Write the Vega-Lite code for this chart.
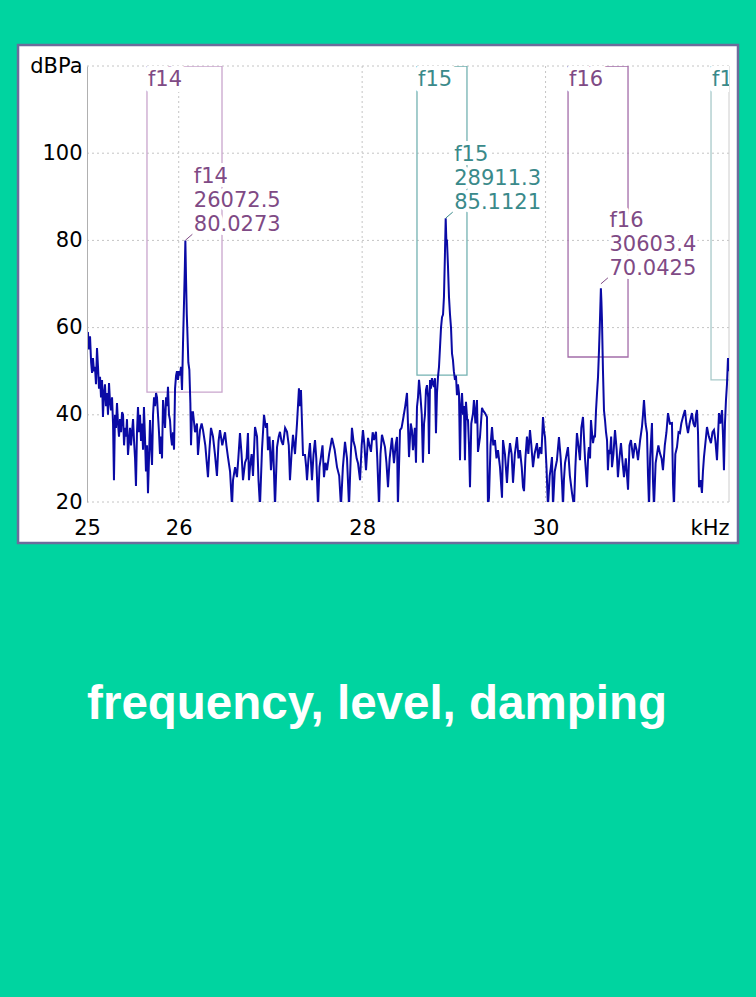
{
 "$schema": "https://vega.github.io/schema/vega-lite/v6.json",
 "width": 642, "height": 436,
 "autosize": "none",
 "padding": {"left": 87, "top": 66, "right": 27, "bottom": 495},
 "background": "#00D4A0",
 "title": {"text": "frequency, level, damping", "orient": "bottom", "anchor": "middle", "font": "Liberation Sans", "fontSize": 47.5, "fontWeight": "bold", "color": "#ffffff", "offset": 137, "dx": -31},
 "config": {"view": {"stroke": null}, "font": "DejaVu Sans", "axis": {"title": null, "grid": false, "ticks": false, "labels": true, "zindex": 1}},
 "datasets": {
  "xg": [{"v": 26}, {"v": 28}, {"v": 30}],
  "yg": [{"v": 20}, {"v": 40}, {"v": 60}, {"v": 80}, {"v": 100}, {"v": 120}],
  "mk": [
   {"m": "f14", "lo": 25.654, "hi": 26.472, "bot": 45.2, "pf": 26.0725, "pl": 80.0273, "ann": "f14\n26072.5\n80.0273"},
   {"m": "f15", "lo": 28.598, "hi": 29.143, "bot": 49.1, "pf": 28.9113, "pl": 85.1121, "ann": "f15\n28911.3\n85.1121"},
   {"m": "f16", "lo": 30.245, "hi": 30.899, "bot": 53.26, "pf": 30.6034, "pl": 70.0425, "ann": "f16\n30603.4\n70.0425"},
   {"m": "f17", "lo": 31.804, "hi": 32.5, "bot": 48.0, "pf": null, "pl": null, "ann": null}
  ],
  "sp": [
   {"f":25.000,"db":57},{"f":25.010,"db":59},{"f":25.020,"db":55},{"f":25.033,"db":58},{"f":25.045,"db":52},{"f":25.055,"db":49.6},{"f":25.065,"db":53},{"f":25.076,"db":50},{"f":25.087,"db":51},{"f":25.098,"db":47},{"f":25.109,"db":55.3},{"f":25.120,"db":51},{"f":25.131,"db":46},{"f":25.142,"db":48.7},{"f":25.153,"db":44},{"f":25.164,"db":48},{"f":25.174,"db":39.5},{"f":25.185,"db":45},{"f":25.196,"db":47},{"f":25.207,"db":42},{"f":25.218,"db":45},{"f":25.229,"db":40},{"f":25.240,"db":47.3},{"f":25.251,"db":43},{"f":25.262,"db":41},{"f":25.273,"db":44},{"f":25.284,"db":38},{"f":25.294,"db":25},{"f":25.305,"db":40},{"f":25.316,"db":37},{"f":25.327,"db":42.7},{"f":25.338,"db":38},{"f":25.349,"db":35},{"f":25.360,"db":39},{"f":25.371,"db":36},{"f":25.382,"db":40.6},{"f":25.393,"db":40},{"f":25.404,"db":33},{"f":25.415,"db":37},{"f":25.426,"db":35},{"f":25.436,"db":39},{"f":25.447,"db":30.8},{"f":25.458,"db":34},{"f":25.469,"db":37},{"f":25.480,"db":33},{"f":25.491,"db":36},{"f":25.502,"db":39},{"f":25.513,"db":34},{"f":25.524,"db":30},{"f":25.534,"db":23.7},{"f":25.545,"db":36},{"f":25.556,"db":41.8},{"f":25.567,"db":36},{"f":25.578,"db":40},{"f":25.589,"db":34},{"f":25.600,"db":38},{"f":25.611,"db":32},{"f":25.621,"db":41.8},{"f":25.632,"db":35},{"f":25.643,"db":27},{"f":25.654,"db":33},{"f":25.665,"db":22},{"f":25.676,"db":30},{"f":25.687,"db":38.8},{"f":25.698,"db":33},{"f":25.709,"db":28.5},{"f":25.720,"db":40},{"f":25.731,"db":44},{"f":25.742,"db":42},{"f":25.753,"db":45},{"f":25.763,"db":44},{"f":25.774,"db":40},{"f":25.785,"db":36},{"f":25.796,"db":31},{"f":25.807,"db":35},{"f":25.818,"db":30},{"f":25.829,"db":43.4},{"f":25.840,"db":40},{"f":25.851,"db":37},{"f":25.862,"db":44},{"f":25.873,"db":42},{"f":25.883,"db":46.4},{"f":25.894,"db":40},{"f":25.905,"db":38.8},{"f":25.916,"db":35},{"f":25.927,"db":33},{"f":25.938,"db":36},{"f":25.949,"db":32},{"f":25.960,"db":46},{"f":25.971,"db":49},{"f":25.981,"db":50},{"f":25.992,"db":48},{"f":26.003,"db":50},{"f":26.014,"db":49},{"f":26.025,"db":51},{"f":26.036,"db":45.7},{"f":26.047,"db":56.5},{"f":26.058,"db":66},{"f":26.067,"db":74},{"f":26.0725,"db":80},{"f":26.080,"db":71},{"f":26.088,"db":63},{"f":26.094,"db":59.4},{"f":26.105,"db":52},{"f":26.116,"db":50.3},{"f":26.127,"db":42.7},{"f":26.134,"db":33},{"f":26.145,"db":40.6},
   {"f":26.156,"db":40.6},{"f":26.178,"db":36},{"f":26.199,"db":38},{"f":26.210,"db":30.8},{"f":26.232,"db":36.5},{"f":26.250,"db":38},{"f":26.265,"db":36.5},{"f":26.290,"db":33},{"f":26.319,"db":25.7},{"f":26.335,"db":32},{"f":26.352,"db":37},{"f":26.374,"db":35},{"f":26.395,"db":31},{"f":26.417,"db":26},{"f":26.435,"db":34},{"f":26.450,"db":36.5},{"f":26.475,"db":33},{"f":26.505,"db":36},{"f":26.520,"db":33},{"f":26.537,"db":30.3},{"f":26.560,"db":27},{"f":26.581,"db":19},{"f":26.592,"db":25},{"f":26.615,"db":28},{"f":26.635,"db":25.7},{"f":26.650,"db":30},{"f":26.668,"db":35.8},{"f":26.685,"db":31},{"f":26.701,"db":25},{"f":26.723,"db":29},{"f":26.740,"db":30},{"f":26.755,"db":35.8},{"f":26.766,"db":25},{"f":26.777,"db":28},{"f":26.795,"db":31},{"f":26.810,"db":26},{"f":26.832,"db":37.2},{"f":26.854,"db":35},{"f":26.870,"db":25},{"f":26.886,"db":19},{"f":26.908,"db":32},{"f":26.930,"db":40},{"f":26.950,"db":37},{"f":26.963,"db":38.1},{"f":26.973,"db":31.9},{"f":26.990,"db":35},{"f":27.006,"db":27.3},{"f":27.028,"db":34.2},{"f":27.050,"db":19},{"f":27.072,"db":32.6},{"f":27.090,"db":35},{"f":27.104,"db":36.1},{"f":27.120,"db":34},{"f":27.137,"db":33.1},{"f":27.160,"db":37},{"f":27.181,"db":36.1},{"f":27.200,"db":33},{"f":27.213,"db":25},{"f":27.230,"db":31},{"f":27.246,"db":35.4},{"f":27.268,"db":31},{"f":27.290,"db":38.1},{"f":27.311,"db":46.1},{"f":27.322,"db":42},{"f":27.333,"db":45.7},{"f":27.355,"db":30.8},{"f":27.377,"db":30.8},{"f":27.390,"db":28},{"f":27.399,"db":25},{"f":27.415,"db":30},{"f":27.431,"db":33.5},{"f":27.453,"db":25},{"f":27.470,"db":31},{"f":27.486,"db":34.2},{"f":27.500,"db":30},{"f":27.519,"db":19},{"f":27.535,"db":28},{"f":27.551,"db":30.3},{"f":27.568,"db":33},{"f":27.584,"db":25.7},{"f":27.600,"db":29},{"f":27.617,"db":27.3},{"f":27.640,"db":31},{"f":27.671,"db":34.7},{"f":27.700,"db":32},{"f":27.726,"db":28},{"f":27.750,"db":26},{"f":27.769,"db":19},{"f":27.790,"db":28},{"f":27.813,"db":33.8},{"f":27.835,"db":30},{"f":27.857,"db":19},{"f":27.875,"db":30},{"f":27.889,"db":37},{"f":27.905,"db":34},{"f":27.922,"db":32.6},{"f":27.940,"db":30},{"f":27.955,"db":28.9},{"f":27.977,"db":25},{"f":27.995,"db":33},{"f":28.009,"db":36.5},{"f":28.025,"db":33},{"f":28.042,"db":27.3},{"f":28.064,"db":34.7},{"f":28.080,"db":33},{"f":28.096,"db":31.5},{"f":28.115,"db":36},{"f":28.129,"db":34.2},{"f":28.151,"db":36.1},{"f":28.165,"db":30},{"f":28.184,"db":19},{"f":28.200,"db":31},{"f":28.216,"db":35.4},{"f":28.233,"db":34},{"f":28.249,"db":32.6},{"f":28.265,"db":29},{"f":28.282,"db":23.4},{"f":28.300,"db":30},{"f":28.325,"db":34.7},{"f":28.347,"db":28.9},{"f":28.365,"db":33},{"f":28.380,"db":34.9},{"f":28.390,"db":19},{"f":28.413,"db":36.5},{"f":28.430,"db":37},{"f":28.445,"db":38.8},{"f":28.470,"db":42},{"f":28.489,"db":45},{"f":28.511,"db":30.3},{"f":28.530,"db":38},{"f":28.543,"db":36.5},{"f":28.554,"db":31.9},
   {"f":28.575,"db":37},{"f":28.587,"db":29},{"f":28.598,"db":41.8},{"f":28.609,"db":44},{"f":28.620,"db":48},{"f":28.635,"db":44.5},{"f":28.650,"db":40},{"f":28.663,"db":29},{"f":28.675,"db":38},{"f":28.685,"db":40},{"f":28.696,"db":45.7},{"f":28.707,"db":46.8},{"f":28.720,"db":44},{"f":28.729,"db":31},{"f":28.740,"db":48},{"f":28.750,"db":46},{"f":28.761,"db":48.4},{"f":28.775,"db":47},{"f":28.783,"db":46.4},{"f":28.794,"db":48.4},{"f":28.805,"db":35.8},{"f":28.816,"db":45},{"f":28.827,"db":48.7},{"f":28.838,"db":51},{"f":28.849,"db":55.5},{"f":28.860,"db":60},{"f":28.871,"db":62.4},{"f":28.882,"db":63},{"f":28.892,"db":67},{"f":28.902,"db":76},{"f":28.911,"db":85.1},{"f":28.918,"db":80},{"f":28.925,"db":80},{"f":28.936,"db":74},{"f":28.947,"db":67},{"f":28.958,"db":63},{"f":28.969,"db":60},{"f":28.980,"db":54},{"f":28.990,"db":52.6},{"f":29.000,"db":50},{"f":29.012,"db":48},{"f":29.023,"db":49},{"f":29.034,"db":44.5},{"f":29.045,"db":47},{"f":29.056,"db":45},{"f":29.067,"db":29.6},{"f":29.078,"db":42},{"f":29.089,"db":45},{"f":29.100,"db":40},{"f":29.110,"db":42},{"f":29.121,"db":29.6},{"f":29.132,"db":43},{"f":29.145,"db":39},{"f":29.154,"db":38.8},{"f":29.165,"db":33},{"f":29.176,"db":23.4},{"f":29.190,"db":38},{"f":29.209,"db":40.4},{"f":29.219,"db":43.4},{"f":29.235,"db":38},{"f":29.252,"db":43.4},{"f":29.263,"db":31.5},{"f":29.285,"db":34.9},{"f":29.307,"db":41.6},{"f":29.318,"db":41},{"f":29.339,"db":40.4},{"f":29.361,"db":39.5},{"f":29.372,"db":19},
   {"f":29.383,"db":21},{"f":29.400,"db":33},{"f":29.416,"db":37.2},{"f":29.430,"db":33},{"f":29.448,"db":34.2},{"f":29.465,"db":30},{"f":29.481,"db":31.9},{"f":29.503,"db":28},{"f":29.525,"db":21},{"f":29.536,"db":34.2},{"f":29.557,"db":31},{"f":29.579,"db":24.4},{"f":29.595,"db":30},{"f":29.612,"db":33.5},{"f":29.630,"db":31},{"f":29.645,"db":24.4},{"f":29.665,"db":31},{"f":29.688,"db":34.9},{"f":29.705,"db":30},{"f":29.721,"db":31.9},{"f":29.740,"db":28},{"f":29.754,"db":23.4},{"f":29.765,"db":22.5},{"f":29.780,"db":30},{"f":29.797,"db":35},{"f":29.812,"db":31},{"f":29.830,"db":36.5},{"f":29.845,"db":33},{"f":29.863,"db":28},{"f":29.880,"db":31},{"f":29.906,"db":33.5},{"f":29.920,"db":30},{"f":29.939,"db":32.6},{"f":29.955,"db":31},{"f":29.972,"db":39.5},{"f":29.985,"db":36},{"f":29.994,"db":34.9},{"f":30.010,"db":28},{"f":30.026,"db":19},{"f":30.045,"db":26},{"f":30.058,"db":28},{"f":30.070,"db":30.3},{"f":30.081,"db":19},{"f":30.100,"db":27},{"f":30.124,"db":29.6},{"f":30.146,"db":34.9},{"f":30.165,"db":30},{"f":30.180,"db":24},{"f":30.190,"db":19},{"f":30.200,"db":25},{"f":30.212,"db":28.9},{"f":30.230,"db":31},{"f":30.244,"db":32.6},{"f":30.265,"db":26},{"f":30.288,"db":22.1},{"f":30.310,"db":19},{"f":30.325,"db":28},{"f":30.342,"db":35.8},{"f":30.358,"db":33},{"f":30.375,"db":29.6},{"f":30.390,"db":37},{"f":30.408,"db":39.5},{"f":30.430,"db":30},{"f":30.452,"db":23.4},{"f":30.465,"db":31},{"f":30.473,"db":32.6},{"f":30.485,"db":30},{"f":30.495,"db":38.8},{"f":30.506,"db":36},{"f":30.517,"db":33.5},{"f":30.528,"db":35},{"f":30.539,"db":35},{"f":30.550,"db":41},{"f":30.561,"db":45},{"f":30.572,"db":48.7},{"f":30.583,"db":55},{"f":30.593,"db":61.7},{"f":30.603,"db":69},{"f":30.609,"db":66},{"f":30.615,"db":61.7},{"f":30.626,"db":50},{"f":30.637,"db":41},{"f":30.648,"db":38.8},{"f":30.659,"db":36},{"f":30.670,"db":34.2},{"f":30.680,"db":27.3},
   {"f":30.692,"db":32},{"f":30.702,"db":31},{"f":30.715,"db":35},{"f":30.724,"db":28},{"f":30.740,"db":31},{"f":30.757,"db":36.5},{"f":30.775,"db":32},{"f":30.789,"db":25.7},{"f":30.805,"db":30},{"f":30.822,"db":33.5},{"f":30.840,"db":29},{"f":30.855,"db":25.7},{"f":30.875,"db":30},{"f":30.899,"db":22.8},{"f":30.915,"db":33},{"f":30.931,"db":34.2},{"f":30.955,"db":30},{"f":30.975,"db":33.5},{"f":30.992,"db":32},{"f":31.008,"db":29.6},{"f":31.030,"db":34},{"f":31.051,"db":37.2},{"f":31.062,"db":40},{"f":31.073,"db":43.4},{"f":31.090,"db":38},{"f":31.106,"db":35.8},{"f":31.117,"db":26},{"f":31.128,"db":19},{"f":31.140,"db":30},{"f":31.160,"db":38.1},{"f":31.171,"db":25},{"f":31.182,"db":19},{"f":31.200,"db":28.9},{"f":31.215,"db":31},{"f":31.230,"db":33},{"f":31.247,"db":31.2},{"f":31.265,"db":30},{"f":31.280,"db":27.3},{"f":31.300,"db":33},{"f":31.318,"db":36},{"f":31.335,"db":40.4},{"f":31.355,"db":38},{"f":31.378,"db":38.1},{"f":31.390,"db":24},{"f":31.400,"db":19},{"f":31.415,"db":31},{"f":31.433,"db":32.6},{"f":31.450,"db":36},{"f":31.465,"db":35.8},{"f":31.480,"db":38},{"f":31.498,"db":39.5},{"f":31.520,"db":41.1},{"f":31.535,"db":38},{"f":31.553,"db":35.8},{"f":31.570,"db":38},{"f":31.596,"db":40.4},{"f":31.612,"db":38},{"f":31.629,"db":37.2},{"f":31.640,"db":40},{"f":31.651,"db":41.1},{"f":31.662,"db":36},{"f":31.673,"db":23.4},{"f":31.690,"db":25},{"f":31.705,"db":22.1},{"f":31.716,"db":27},{"f":31.727,"db":30.3},{"f":31.745,"db":34},{"f":31.760,"db":37.2},{"f":31.780,"db":35},{"f":31.803,"db":33.5},{"f":31.820,"db":36},{"f":31.836,"db":36.5},{"f":31.852,"db":34},{"f":31.869,"db":29.6},{"f":31.880,"db":35},{"f":31.891,"db":40.4},{"f":31.905,"db":38},{"f":31.924,"db":41.1},{"f":31.935,"db":35},{"f":31.945,"db":27.3},{"f":31.956,"db":38},{"f":31.967,"db":43.4},{"f":31.978,"db":47},{"f":31.989,"db":53},{"f":32.000,"db":50}
  ]
 },
 "layer": [
  {
   "data": {"values": [{}]},
   "mark": {"type": "rect", "fill": "#ffffff", "stroke": "#6c6c9c", "strokeWidth": 2.5, "clip": false},
   "encoding": {
    "x": {"datum": 24.248, "type": "quantitative", "scale": {"domain": [25, 32], "nice": false, "zero": false}},
    "x2": {"datum": 32.098},
    "y": {"datum": 124.82, "type": "quantitative", "scale": {"domain": [20, 120], "nice": false, "zero": false}},
    "y2": {"datum": 10.6}
   }
  },
  {
   "data": {"name": "xg"},
   "mark": {"type": "rule", "color": "#c4c4c4", "strokeWidth": 1, "strokeDash": [2, 3]},
   "encoding": {"x": {"field": "v", "type": "quantitative", "scale": {"domain": [25, 32], "nice": false, "zero": false}}}
  },
  {
   "data": {"name": "yg"},
   "mark": {"type": "rule", "color": "#c4c4c4", "strokeWidth": 1, "strokeDash": [2, 3]},
   "encoding": {"y": {"field": "v", "type": "quantitative", "scale": {"domain": [20, 120], "nice": false, "zero": false}}}
  },
  {
   "data": {"values": [{}]},
   "mark": {"type": "rule", "color": "#cccccc", "strokeWidth": 1},
   "encoding": {"x": {"datum": 32, "type": "quantitative", "scale": {"domain": [25, 32], "nice": false, "zero": false}}}
  },
  {
   "data": {"name": "mk"},
   "mark": {"type": "rect", "filled": false, "strokeWidth": 1.3, "clip": true},
   "encoding": {
    "x": {"field": "lo", "type": "quantitative", "scale": {"domain": [25, 32], "nice": false, "zero": false}},
    "x2": {"field": "hi"},
    "y": {"field": "bot", "type": "quantitative", "scale": {"domain": [20, 120], "nice": false, "zero": false}},
    "y2": {"datum": 120},
    "stroke": {"field": "m", "type": "nominal", "scale": {"domain": ["f14", "f15", "f16", "f17"], "range": ["#c9a5cd", "#74b2b2", "#a36da9", "#a8caca"]}, "legend": null}
   }
  },
  {
   "data": {"name": "sp"},
   "mark": {"type": "line", "color": "#0a0aa5", "strokeWidth": 2, "clip": true},
   "encoding": {
    "x": {"field": "f", "type": "quantitative", "scale": {"domain": [25, 32], "nice": false, "zero": false},
     "axis": {"values": [25, 26, 28, 30, 32], "format": "d", "labelExpr": "datum.value == 32 ? 'kHz' : datum.label", "labelAlign": {"condition": {"test": "datum.value == 32", "value": "right"}, "value": "center"}, "labelFlush": false, "labelOverlap": false, "labelBound": false, "grid": false, "ticks": false, "tickSize": 0, "domain": false, "title": null, "labelFont": "DejaVu Sans", "labelFontSize": 21, "labelColor": "#000000", "labelPadding": 15, "zindex": 1}},
    "y": {"field": "db", "type": "quantitative", "scale": {"domain": [20, 120], "nice": false, "zero": false},
     "axis": {"values": [20, 40, 60, 80, 100, 120], "format": "d", "labelExpr": "datum.value == 120 ? 'dBPa' : datum.label", "labelOverlap": false, "grid": false, "ticks": false, "tickSize": 0, "domain": true, "domainColor": "#b0b0b0", "domainWidth": 1, "title": null, "labelFont": "DejaVu Sans", "labelFontSize": 21, "labelColor": "#000000", "labelPadding": 5, "zindex": 1}}
   }
  },
  {
   "data": {"name": "mk"},
   "mark": {"type": "text", "align": "left", "baseline": "top", "dx": 1, "dy": 3, "font": "DejaVu Sans", "fontSize": 21, "fill": "#ffffff", "stroke": "#ffffff", "strokeWidth": 12, "strokeJoin": "round", "clip": true},
   "encoding": {
    "x": {"field": "lo", "type": "quantitative", "scale": {"domain": [25, 32], "nice": false, "zero": false}},
    "y": {"datum": 120, "type": "quantitative", "scale": {"domain": [20, 120], "nice": false, "zero": false}},
    "text": {"field": "m"}
   }
  },
  {
   "data": {"name": "mk"},
   "transform": [{"filter": "datum.ann != null"}],
   "mark": {"type": "text", "align": "left", "baseline": "top", "dx": 8.5, "dy": -74, "font": "DejaVu Sans", "fontSize": 21, "lineHeight": 24, "lineBreak": "\n", "fill": "#ffffff", "stroke": "#ffffff", "strokeWidth": 8, "strokeJoin": "round", "clip": true},
   "encoding": {
    "x": {"field": "pf", "type": "quantitative", "scale": {"domain": [25, 32], "nice": false, "zero": false}},
    "y": {"field": "pl", "type": "quantitative", "scale": {"domain": [20, 120], "nice": false, "zero": false}},
    "text": {"field": "ann"}
   }
  },
  {
   "data": {"name": "mk"},
   "mark": {"type": "text", "align": "left", "baseline": "top", "dx": 1, "dy": 3, "font": "DejaVu Sans", "fontSize": 21, "clip": true},
   "encoding": {
    "x": {"field": "lo", "type": "quantitative", "scale": {"domain": [25, 32], "nice": false, "zero": false}},
    "y": {"datum": 120, "type": "quantitative", "scale": {"domain": [20, 120], "nice": false, "zero": false}},
    "text": {"field": "m"},
    "color": {"field": "m", "type": "nominal", "scale": {"domain": ["f14", "f15", "f16", "f17"], "range": ["#7f4a85", "#3a8a8a", "#7f4a85", "#3a8a8a"]}, "legend": null}
   }
  },
  {
   "data": {"name": "mk"},
   "transform": [{"filter": "datum.ann != null"}],
   "mark": {"type": "text", "align": "left", "baseline": "top", "dx": 8.5, "dy": -74, "font": "DejaVu Sans", "fontSize": 21, "lineHeight": 24, "lineBreak": "\n", "clip": true},
   "encoding": {
    "x": {"field": "pf", "type": "quantitative", "scale": {"domain": [25, 32], "nice": false, "zero": false}},
    "y": {"field": "pl", "type": "quantitative", "scale": {"domain": [20, 120], "nice": false, "zero": false}},
    "text": {"field": "ann"},
    "color": {"field": "m", "type": "nominal", "scale": {"domain": ["f14", "f15", "f16", "f17"], "range": ["#7f4a85", "#3a8a8a", "#7f4a85", "#3a8a8a"]}, "legend": null}
   }
  },
  {
   "data": {"name": "mk"},
   "transform": [{"filter": "datum.ann != null"}],
   "mark": {"type": "rule", "strokeWidth": 1, "x2Offset": 7, "y2Offset": -6},
   "encoding": {
    "x": {"field": "pf", "type": "quantitative", "scale": {"domain": [25, 32], "nice": false, "zero": false}},
    "y": {"field": "pl", "type": "quantitative", "scale": {"domain": [20, 120], "nice": false, "zero": false}},
    "x2": {"field": "pf"},
    "y2": {"field": "pl"},
    "color": {"field": "m", "type": "nominal", "scale": {"domain": ["f14", "f15", "f16", "f17"], "range": ["#7f4a85", "#3a8a8a", "#7f4a85", "#3a8a8a"]}, "legend": null}
   }
  }
 ]
}
